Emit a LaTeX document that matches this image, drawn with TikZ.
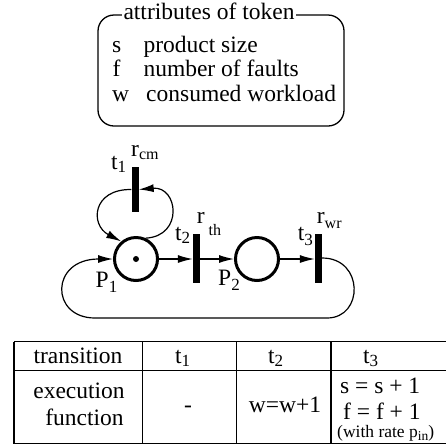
\documentclass[tikz,border=0pt]{standalone}
\usepackage{fontspec}
\setmainfont{Liberation Serif}
\usetikzlibrary{arrows.meta}
% lowered, smaller text for indices: \lo[size]{drop}{text}
\newcommand\lo[3][16]{\raisebox{-#2}{\fontsize{#1}{#1}\selectfont #3}}
\begin{document}
\begin{tikzpicture}[x=1pt,y=-1pt,
  every node/.style={inner sep=0pt},
  txt/.style={font=\fontsize{23.5}{24}\selectfont, anchor=base west},
  ctxt/.style={font=\fontsize{23.5}{24}\selectfont, anchor=base},
  smalltxt/.style={font=\fontsize{17.5}{18}\selectfont, anchor=base west},
  placenode/.style={circle, draw, line width=3pt, minimum size=43pt},
  transbar/.style={rectangle, fill=black, minimum width=7pt, minimum height=49pt},
  netarc/.style={line width=1.2pt, -{Latex[length=15pt,width=8pt]}},
  tblrule/.style={line width=1.3pt}]
\useasboundingbox (0,0) rectangle (446,445);

% ---- token attributes box ----
\draw[tblrule, rounded corners=16pt] (98,15) rectangle (344,126);
\node[ctxt, fill=white, inner xsep=2pt] (title) at (209,19.5) {attributes of token};
\node[txt] (ks) at (112,52.7) {s};
\node[txt] (vs) at (143.3,52.7) {product size};
\node[txt] (kf) at (112.3,76.7) {f};
\node[txt] (vf) at (143.3,76.7) {number of faults};
\node[txt] (kw) at (112,101) {w};
\node[txt] (vw) at (146,101) {consumed workload};

% ---- Petri net ----
\node[placenode] (P1) at (136,259) {};
\fill (P1.center) circle (3pt);
\node[placenode] (P2) at (257,259) {};
\node[transbar, minimum height=45pt] (t1) at (135,189.5) {};
\node[transbar] (t2) at (196.5,258) {};
\node[transbar] (t3) at (318.5,258) {};

\node[txt] (lt1) at (111,169) {t\lo[17]{3pt}{1}};
\node[txt] (lr1) at (131,156) {r\lo{3pt}{cm}};
\node[txt] (lt2) at (175,240) {t\lo[17]{3pt}{2}};
\node[txt] (lr2) at (196.7,223) {r\,\lo{12pt}{th}};
\node[txt] (lt3) at (297.7,240) {t\lo[17]{5pt}{3}};
\node[txt] (lr3) at (316.7,223) {r\lo{5pt}{wr}};
\node[txt] (lP1) at (95.5,287) {P\lo[17]{5pt}{1}};
\node[txt] (lP2) at (218,285) {P\lo[17]{5pt}{2}};

\draw[netarc] (P1.east) -- (P1.east -| t2.west);
\draw[netarc] (t2.east |- P2.west) -- (P2.west);
\draw[netarc] (P2.east) -- (P2.east -| t3.west);
% self loop through t1
\draw[netarc] (t1.west) .. controls (92,189) and (90,225) .. (P1.130);
\draw[netarc] (P1.65) .. controls (184,236) and (178,186) .. (t1.east);
% return arc from t3 back to P1
\coordinate (rb) at (327,318);
\coordinate (lb) at (95,318);
\draw[netarc] (t3.east) .. controls (364,258) and (364,318) .. (rb) -- (lb)
  .. controls (50,318) and (50,259) .. (P1.west);

% ---- transition table ----
\draw[tblrule] (14,341.5) -- (446,341.5);
\draw[tblrule] (14,370.5) -- (446,370.5);
\draw[tblrule] (14,443.5) -- (446,443.5);
\foreach \x in {14,142.3,236.7,331} \draw[tblrule] (\x,341.5) -- (\x,443.5);

\node[ctxt] (h0) at (78,363) {transition};
\node[txt] (h1) at (175,363) {t\lo[17]{3pt}{1}};
\node[txt] (h2) at (268,363) {t\lo[17]{3pt}{2}};
\node[txt] (h3) at (363,363) {t\lo[17]{3pt}{3}};
\node[ctxt] (e1) at (79,398) {execution};
\node[ctxt] (e2) at (84.5,425) {function};
\node[ctxt] (f1) at (188,412) {-};
\node[ctxt] (f2) at (285,412) {w=w+1};
\node[txt] (f3a) at (340,393) {s = s + 1};
\node[txt] (f3b) at (343,419) {f = f + 1};
\node[smalltxt] (f3c) at (337,437) {(with rate p\lo[13.5]{3pt}{in})};
\end{tikzpicture}
\end{document}
